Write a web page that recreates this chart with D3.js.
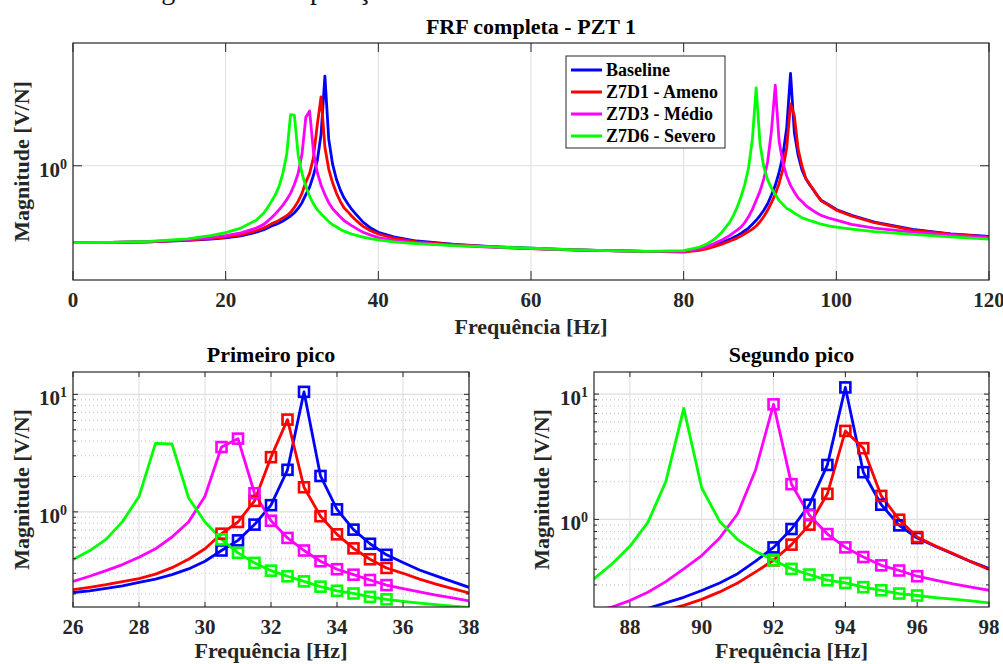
<!DOCTYPE html>
<html>
<head>
<meta charset="utf-8">
<script src="https://cdn.jsdelivr.net/npm/d3@7"></script>
<style>
  html, body { margin: 0; padding: 0; background: #ffffff; }
  svg { display: block; font-family: 'Liberation Serif', 'Times New Roman', serif; }
</style>
</head>
<body>
<svg id="fig" width="1003" height="664"></svg>
<script>
// ---- Frequency response magnitudes [V/N] for PZT 1 ----
// Low-frequency segment
const freqLow      = [0, 5, 10, 15, 18, 20, 22, 24, 25, 25.5];
const baselineLow  = [0.133, 0.134, 0.136, 0.141, 0.146, 0.151, 0.159, 0.175, 0.187, 0.196];
const z7d1Low      = [0.133, 0.134, 0.136, 0.142, 0.148, 0.154, 0.163, 0.182, 0.196, 0.206];
const z7d3Low      = [0.133, 0.134, 0.137, 0.144, 0.152, 0.160, 0.172, 0.195, 0.215, 0.234];
const z7d6Low      = [0.133, 0.134, 0.138, 0.147, 0.160, 0.173, 0.195, 0.240, 0.290, 0.335];

// First resonance band
const freqPeak1     = [26, 26.5, 27, 27.5, 28, 28.5, 29, 29.5, 30, 30.5, 31, 31.5, 32, 32.5, 33, 33.5, 34, 34.5, 35, 35.5, 36, 36.5, 37, 37.5, 38];
const baselinePeak1 = [0.206, 0.213, 0.223, 0.235, 0.251, 0.268, 0.292, 0.327, 0.380, 0.469, 0.572, 0.779, 1.14, 2.28, 10.5, 2.02, 1.05, 0.706, 0.535, 0.431, 0.370, 0.320, 0.285, 0.255, 0.228];
const z7d1Peak1     = [0.218, 0.228, 0.240, 0.255, 0.270, 0.295, 0.335, 0.395, 0.485, 0.652, 0.820, 1.24, 2.92, 6.10, 1.62, 0.918, 0.644, 0.489, 0.395, 0.333, 0.300, 0.268, 0.243, 0.222, 0.204];
const z7d3Peak1     = [0.256, 0.283, 0.316, 0.356, 0.411, 0.485, 0.611, 0.820, 1.36, 3.56, 4.20, 1.44, 0.840, 0.600, 0.469, 0.380, 0.325, 0.292, 0.263, 0.238, 0.222, 0.208, 0.196, 0.185, 0.175];
const z7d6Peak1     = [0.393, 0.466, 0.583, 0.826, 1.35, 3.83, 3.78, 1.32, 0.820, 0.583, 0.448, 0.368, 0.316, 0.283, 0.256, 0.231, 0.213, 0.202, 0.189, 0.180, 0.173, 0.167, 0.162, 0.158, 0.154];

// Mid segment between resonances
const freqMid      = [39, 40, 42, 45, 50, 55, 60, 65, 70, 75, 80, 82, 83, 84, 85, 86, 86.5];
const baselineMid  = [0.195, 0.175, 0.155, 0.139, 0.127, 0.120, 0.115, 0.111, 0.108, 0.106, 0.106, 0.111, 0.116, 0.124, 0.133, 0.145, 0.152];
const z7d1Mid      = [0.182, 0.167, 0.150, 0.136, 0.126, 0.119, 0.114, 0.110, 0.108, 0.106, 0.104, 0.109, 0.113, 0.120, 0.128, 0.138, 0.144];
const z7d3Mid      = [0.162, 0.152, 0.141, 0.132, 0.124, 0.118, 0.114, 0.110, 0.108, 0.106, 0.106, 0.113, 0.120, 0.130, 0.143, 0.160, 0.172];
const z7d6Mid      = [0.148, 0.143, 0.136, 0.130, 0.123, 0.119, 0.115, 0.111, 0.108, 0.106, 0.108, 0.118, 0.128, 0.145, 0.175, 0.225, 0.270];

// Second resonance band
const freqPeak2     = [87, 87.5, 88, 88.5, 89, 89.5, 90, 90.5, 91, 91.5, 92, 92.5, 93, 93.5, 94, 94.5, 95, 95.5, 96, 96.5, 97, 97.5, 98];
const baselinePeak2 = [0.160, 0.170, 0.182, 0.195, 0.216, 0.239, 0.271, 0.311, 0.369, 0.464, 0.598, 0.838, 1.31, 2.72, 11.3, 2.38, 1.31, 0.896, 0.710, 0.610, 0.530, 0.460, 0.405];
const z7d1Peak2     = [0.150, 0.158, 0.168, 0.178, 0.190, 0.206, 0.230, 0.264, 0.311, 0.381, 0.472, 0.629, 0.908, 1.60, 5.08, 3.70, 1.54, 0.994, 0.723, 0.615, 0.535, 0.460, 0.398];
const z7d3Peak2     = [0.185, 0.200, 0.225, 0.262, 0.319, 0.403, 0.514, 0.710, 1.11, 2.48, 8.28, 1.91, 1.08, 0.764, 0.598, 0.501, 0.430, 0.391, 0.352, 0.328, 0.306, 0.288, 0.272];
const z7d6Peak2     = [0.335, 0.441, 0.610, 0.946, 2.00, 7.69, 1.78, 0.964, 0.690, 0.556, 0.472, 0.403, 0.363, 0.327, 0.311, 0.288, 0.272, 0.256, 0.247, 0.238, 0.231, 0.224, 0.216];

// High-frequency segment
const freqHigh     = [99, 100, 102, 105, 110, 115, 120];
const baselineHigh = [0.360, 0.318, 0.272, 0.228, 0.188, 0.168, 0.157];
const z7d1High     = [0.355, 0.312, 0.268, 0.225, 0.185, 0.166, 0.155];
const z7d3High     = [0.254, 0.240, 0.215, 0.195, 0.175, 0.162, 0.151];
const z7d6High     = [0.207, 0.200, 0.190, 0.178, 0.165, 0.155, 0.146];

const seriesNames  = ['Baseline', 'Z7D1 - Ameno', 'Z7D3 - Médio', 'Z7D6 - Severo'];
const seriesColors = ['#0000ff', '#ff0000', '#ff00ff', '#00ff00'];

// Tick labels
const fullTicks   = [0, 20, 40, 60, 80, 100, 120];
const peak1Ticks  = [26, 28, 30, 32, 34, 36, 38];
const peak2Ticks  = [88, 90, 92, 94, 96, 98];
const markerSpan1 = [30.5, 35.5];
const markerSpan2 = [92, 96];

// ---- assemble series ----
const lowSets   = [baselineLow, z7d1Low, z7d3Low, z7d6Low];
const p1Sets    = [baselinePeak1, z7d1Peak1, z7d3Peak1, z7d6Peak1];
const midSets   = [baselineMid, z7d1Mid, z7d3Mid, z7d6Mid];
const p2Sets    = [baselinePeak2, z7d1Peak2, z7d3Peak2, z7d6Peak2];
const highSets  = [baselineHigh, z7d1High, z7d3High, z7d6High];

const zip = (fs, vs) => fs.map((f, i) => ({ f, v: vs[i] }));

const fullSeries = seriesNames.map((name, k) => ({
  name, color: seriesColors[k],
  points: [].concat(
    zip(freqLow, lowSets[k]), zip(freqPeak1, p1Sets[k]), zip(freqMid, midSets[k]),
    zip(freqPeak2, p2Sets[k]), zip(freqHigh, highSets[k]))
}));
const peak1Series = seriesNames.map((name, k) => ({ name, color: seriesColors[k], points: zip(freqPeak1, p1Sets[k]) }));
const peak2Series = seriesNames.map((name, k) => ({ name, color: seriesColors[k], points: zip(freqPeak2, p2Sets[k]) }));

// ---- drawing ----
const svg = d3.select('#fig');
const AXIS = '#262626';
const GRID = '#dedede';
const MINOR = '#c4c4c4';
const FONT_TICK = 21, FONT_LABEL = 22;

// Caption line of the enclosing document, mostly above the visible area
svg.append('text')
  .attr('x', 138).attr('y', -1)
  .attr('font-size', 28)
  .attr('fill', '#111')
  .text('Figura 5 - Comparação das FRFs');

let clipId = 0;

function panel(cfg) {
  const { x, y, xTicks, yMajor, yMinor, majorLen, minorLen, series, markerSpan, lineWidth } = cfg;
  const [x0, x1] = x.range();
  const [yb, yt] = y.range();
  const g = svg.append('g');

  // minor grid (dotted)
  g.selectAll('line.minor-grid').data(yMinor).join('line')
    .attr('x1', x0).attr('x2', x1)
    .attr('y1', d => y(d)).attr('y2', d => y(d))
    .attr('stroke', MINOR).attr('stroke-width', 1)
    .attr('stroke-dasharray', '1,3');

  // major grid
  g.selectAll('line.vgrid').data(xTicks).join('line')
    .attr('x1', d => x(d)).attr('x2', d => x(d))
    .attr('y1', yt).attr('y2', yb)
    .attr('stroke', GRID).attr('stroke-width', 1);
  g.selectAll('line.hgrid').data(yMajor).join('line')
    .attr('x1', x0).attr('x2', x1)
    .attr('y1', d => y(d)).attr('y2', d => y(d))
    .attr('stroke', GRID).attr('stroke-width', 1.2);

  // clipping region for the curves
  const id = 'clip' + (clipId++);
  svg.append('clipPath').attr('id', id)
    .append('rect').attr('x', x0).attr('y', yt).attr('width', x1 - x0).attr('height', yb - yt);

  const line = d3.line().x(d => x(d.f)).y(d => y(d.v));
  const plot = g.append('g').attr('clip-path', `url(#${id})`);
  series.forEach(s => {
    plot.append('path')
      .attr('d', line(s.points))
      .attr('fill', 'none')
      .attr('stroke', s.color)
      .attr('stroke-width', lineWidth)
      .attr('stroke-linejoin', 'round');
  });
  if (markerSpan) {
    const sz = 10;
    series.forEach(s => {
      plot.selectAll(null)
        .data(s.points.filter(p => p.f >= markerSpan[0] && p.f <= markerSpan[1]))
        .join('rect')
        .attr('x', d => x(d.f) - sz / 2).attr('y', d => y(d.v) - sz / 2)
        .attr('width', sz).attr('height', sz)
        .attr('fill', 'none').attr('stroke', s.color).attr('stroke-width', 2.6);
    });
  }

  // box
  g.append('rect')
    .attr('x', x0).attr('y', yt).attr('width', x1 - x0).attr('height', yb - yt)
    .attr('fill', 'none').attr('stroke', AXIS).attr('stroke-width', 1.2);

  // inward ticks on all four sides
  const ticks = g.append('g').attr('stroke', AXIS).attr('stroke-width', 1);
  xTicks.forEach(t => {
    ticks.append('line').attr('x1', x(t)).attr('x2', x(t)).attr('y1', yb).attr('y2', yb - majorLen);
    ticks.append('line').attr('x1', x(t)).attr('x2', x(t)).attr('y1', yt).attr('y2', yt + majorLen);
  });
  yMajor.forEach(t => {
    ticks.append('line').attr('x1', x0).attr('x2', x0 + majorLen).attr('y1', y(t)).attr('y2', y(t));
    ticks.append('line').attr('x1', x1).attr('x2', x1 - majorLen).attr('y1', y(t)).attr('y2', y(t));
  });
  yMinor.forEach(t => {
    ticks.append('line').attr('x1', x0).attr('x2', x0 + minorLen).attr('y1', y(t)).attr('y2', y(t));
    ticks.append('line').attr('x1', x1).attr('x2', x1 - minorLen).attr('y1', y(t)).attr('y2', y(t));
  });

  // tick labels
  g.selectAll('text.xt').data(xTicks).join('text')
    .attr('x', d => x(d)).attr('y', cfg.xTickBase)
    .attr('text-anchor', 'middle')
    .attr('font-size', FONT_TICK).attr('font-weight', 'bold').attr('fill', AXIS)
    .text(d => d);
  yMajor.forEach(t => {
    const exp = Math.round(Math.log10(t));
    const tx = g.append('text')
      .attr('x', x0 - 6).attr('y', y(t) + 11)
      .attr('text-anchor', 'end')
      .attr('font-size', FONT_TICK).attr('font-weight', 'bold').attr('fill', AXIS);
    tx.append('tspan').text('10');
    tx.append('tspan').attr('dy', -8).attr('font-size', 14).text(exp);
  });

  // title and axis labels
  const cx = (x0 + x1) / 2;
  g.append('text').attr('x', cx).attr('y', cfg.titleBase)
    .attr('text-anchor', 'middle').attr('font-size', FONT_LABEL).attr('font-weight', 'bold').attr('fill', '#000')
    .text(cfg.title);
  g.append('text').attr('x', cx).attr('y', cfg.xLabelBase)
    .attr('text-anchor', 'middle').attr('font-size', FONT_LABEL).attr('font-weight', 'bold').attr('fill', AXIS)
    .text('Frequência [Hz]');
  g.append('text')
    .attr('transform', `translate(${cfg.yLabelX},${(yt + yb) / 2}) rotate(-90)`)
    .attr('text-anchor', 'middle').attr('font-size', FONT_LABEL).attr('font-weight', 'bold').attr('fill', AXIS)
    .text('Magnitude [V/N]');
  return g;
}

// Full-band FRF
panel({
  x: d3.scaleLinear([0, 120], [73, 989]),
  y: d3.scaleLog([0.05, 25], [280, 43]),
  xTicks: fullTicks, yMajor: [1], yMinor: [],
  majorLen: 9, minorLen: 0,
  series: fullSeries, lineWidth: 2.8,
  xTickBase: 306.5, xLabelBase: 334, titleBase: 34, yLabelX: 28.5,
  title: 'FRF completa - PZT 1'
});

// First resonance detail
panel({
  x: d3.scaleLinear([26, 38], [73, 469]),
  y: d3.scaleLog([0.155, 15.5], [607, 372]),
  xTicks: peak1Ticks, yMajor: [1, 10],
  yMinor: [0.2, 0.3, 0.4, 0.5, 0.6, 0.7, 0.8, 0.9, 2, 3, 4, 5, 6, 7, 8, 9],
  majorLen: 5, minorLen: 3,
  series: peak1Series, markerSpan: markerSpan1, lineWidth: 2.8,
  xTickBase: 634, xLabelBase: 658, titleBase: 362, yLabelX: 28.5,
  title: 'Primeiro pico'
});

// Second resonance detail
panel({
  x: d3.scaleLinear([87, 98], [594, 989]),
  y: d3.scaleLog([0.2, 15], [607, 372]),
  xTicks: peak2Ticks, yMajor: [1, 10],
  yMinor: [0.3, 0.4, 0.5, 0.6, 0.7, 0.8, 0.9, 2, 3, 4, 5, 6, 7, 8, 9],
  majorLen: 5, minorLen: 3,
  series: peak2Series, markerSpan: markerSpan2, lineWidth: 2.8,
  xTickBase: 634, xLabelBase: 658, titleBase: 362, yLabelX: 549,
  title: 'Segundo pico'
});

// Legend of the full-band panel
const leg = svg.append('g').attr('transform', 'translate(566,56)');
leg.append('rect').attr('width', 159).attr('height', 92)
  .attr('fill', '#fff').attr('stroke', AXIS).attr('stroke-width', 1);
seriesNames.forEach((name, i) => {
  const cy = 14 + i * 22;
  leg.append('line').attr('x1', 5).attr('x2', 36).attr('y1', cy).attr('y2', cy)
    .attr('stroke', seriesColors[i]).attr('stroke-width', 3);
  leg.append('text').attr('x', 40).attr('y', cy + 6)
    .attr('font-size', 18).attr('font-weight', 'bold').attr('fill', '#000')
    .text(name);
});
</script>
</body>
</html>
